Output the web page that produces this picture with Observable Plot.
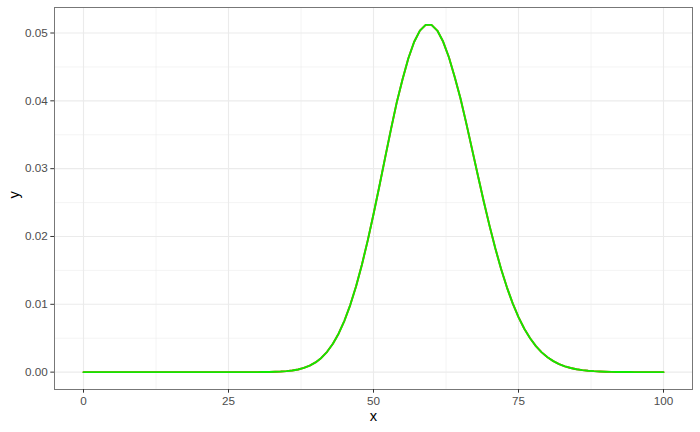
<!DOCTYPE html>
<html><head><meta charset="utf-8">
<script src="https://cdn.jsdelivr.net/npm/d3@7"></script>
<script src="https://cdn.jsdelivr.net/npm/@observablehq/plot@0.6"></script>
<style>
body{margin:0;background:#fff}
svg{font-family:"Liberation Sans",Arial,sans-serif;background:#fff}
</style>
</head><body><div id="chart"></div><script>
const xValues = [
  0,1,2,3,4,5,6,7,8,9,10,11,12,13,14,15,16,17,18,19,
  20,21,22,23,24,25,26,27,28,29,30,31,32,33,34,35,36,37,38,39,
  40,41,42,43,44,45,46,47,48,49,50,51,52,53,54,55,56,57,58,59,
  60,61,62,63,64,65,66,67,68,69,70,71,72,73,74,75,76,77,78,79,
  80,81,82,83,84,85,86,87,88,89,90,91,92,93,94,95,96,97,98,99,100
];
const yValues = [
  0,0,0,0,0,0,0,0,0,0,
  0,0,0,0,0,0,0,0,0,0,
  0,0,0,0,0,0.00000016,0.00000037,0.0000008,0.0000017,0.0000036,
  0.0000073,0.0000141,0.0000265,0.0000482,0.0000850,0.0001457,0.0002428,0.0003937,0.0006217,0.0009565,
  0.0014347,0.0020995,0.0029993,0.0041850,0.0057068,0.0076090,0.0099248,0.012670,0.015837,0.019393,
  0.023271,0.027378,0.031590,0.035762,0.039736,0.043160,0.046240,0.048670,0.050350,0.051200,
  0.051200,0.050360,0.048740,0.046420,0.043520,0.040349,0.036681,0.032849,0.028984,0.025204,
  0.021603,0.018256,0.015213,0.012504,0.010138,0.0081104,0.0064030,0.0049894,0.0038380,0.0029149,
  0.0021862,0.0016194,0.0011849,0.00085657,0.00061184,0.00043189,0.00030132,0.00020781,0.00014169,0.00009552,
  0.00006368,0.00004199,0.00002738,0.00001767,0.00001128,0.00000712,0.00000445,0.00000275,0.00000169,0.00000102,
  0.00000061
];
const xTicks = [0, 25, 50, 75, 100];
const yTicks = [0, 0.01, 0.02, 0.03, 0.04, 0.05];
const xMinor = [12.5, 37.5, 62.5, 87.5];
const yMinor = [0.005, 0.015, 0.025, 0.035, 0.045];

const data = xValues.map((x, i) => ({x, y: yValues[i]}));

const chart = Plot.plot({
  width: 700,
  height: 432,
  marginLeft: 54,
  marginRight: 8,
  marginTop: 7,
  marginBottom: 43,
  x: {domain: [-5, 105]},
  y: {domain: [-0.00256, 0.05376]},
  marks: [
    Plot.ruleY(yMinor, {stroke: "#ebebeb", strokeWidth: 0.55}),
    Plot.ruleX(xMinor, {stroke: "#ebebeb", strokeWidth: 0.55}),
    Plot.ruleY(yTicks, {stroke: "#ebebeb", strokeWidth: 1.1}),
    Plot.ruleX(xTicks, {stroke: "#ebebeb", strokeWidth: 1.1}),
    Plot.line(data, {x: "x", y: "y", stroke: "#ff3300", strokeWidth: 1.9}),
    Plot.line(data, {x: "x", y: "y", stroke: "#11e800", strokeWidth: 1.9}),
    Plot.frame({stroke: "#777", strokeWidth: 1}),
    Plot.axisX({ticks: xTicks, tickSize: 3.7, tickPadding: 3, fontSize: 11.7, fill: "#4d4d4d", stroke: "#333", label: null}),
    Plot.axisY({ticks: yTicks, tickSize: 3.7, tickPadding: 3, fontSize: 11.7, fill: "#4d4d4d", stroke: "#333", label: null, tickFormat: d3.format(".2f")}),
    Plot.text(["x"], {frameAnchor: "bottom", dy: 31, fontSize: 14.7, fill: "#000"}),
    Plot.text(["y"], {frameAnchor: "left", dx: -40, rotate: -90, fontSize: 14.7, fill: "#000"})
  ]
});
document.getElementById("chart").appendChild(chart);
</script></body></html>
